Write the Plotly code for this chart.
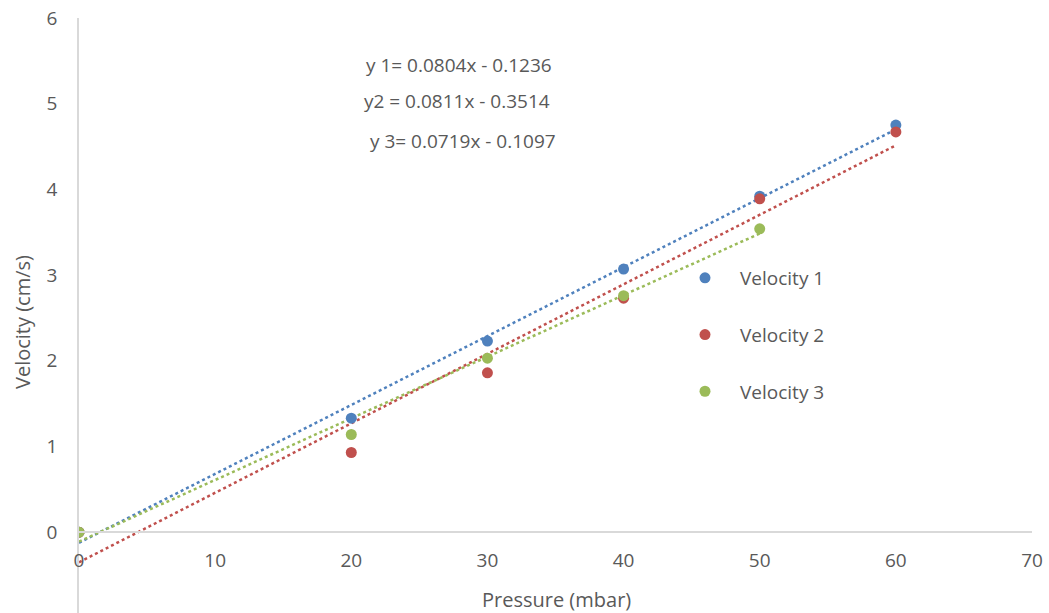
import plotly.graph_objects as go

pressure = [0, 20, 30, 40, 50, 60]
velocity1 = [0.0, 1.33, 2.23, 3.07, 3.92, 4.75]
velocity2 = [0.0, 0.93, 1.86, 2.73, 3.89, 4.67]
velocity3 = [0.0, 1.14, 2.03, 2.76, 3.54]
names = ["Velocity 1", "Velocity 2", "Velocity 3"]
slopes = [0.0804, 0.0811, 0.0719]
intercepts = [-0.1236, -0.3514, -0.1097]
equations = ["y 1= 0.0804x - 0.1236", "y2 = 0.0811x - 0.3514", "y 3= 0.0719x - 0.1097"]
colors = ["#4F81BD", "#C0504D", "#9BBB59"]

series = [velocity1, velocity2, velocity3]
FONT = "Open Sans"
GRAY = "#595959"

fig = go.Figure()
# trendlines first (under markers)
for i, ys in enumerate(series):
    xs = pressure[:len(ys)]
    x_end = [xs[0], xs[-1]]
    fig.add_trace(go.Scatter(
        x=x_end, y=[slopes[i] * v + intercepts[i] for v in x_end],
        mode="lines", line=dict(color=colors[i], width=2.5, dash="dot"),
        showlegend=False, hoverinfo="skip", legendgroup=names[i]))
for i, ys in enumerate(series):
    xs = pressure[:len(ys)]
    fig.add_trace(go.Scatter(
        x=xs, y=ys, mode="markers", name=names[i], legendgroup=names[i],
        marker=dict(color=colors[i], size=11)))

ymin, ymax = -0.943, 6
fig.update_layout(
    width=1049, height=613,
    margin=dict(l=79, r=17, t=18, b=0),
    plot_bgcolor="white", paper_bgcolor="white",
    font=dict(family=FONT, size=19, color=GRAY),
    xaxis=dict(range=[0, 70], tickvals=[0, 10, 20, 30, 40, 50, 60, 70],
               showgrid=False, zeroline=False, showline=True, linecolor="#D9D9D9",
               linewidth=1.5, anchor="free", position=(0 - ymin) / (ymax - ymin),
               ticks="", ticklabelstandoff=11, tickfont=dict(size=19, color=GRAY)),
    yaxis=dict(range=[ymin, ymax], tickvals=[-1, 0, 1, 2, 3, 4, 5, 6],
               showgrid=False, zeroline=False, showline=True, linecolor="#D9D9D9",
               linewidth=1.5, ticks="", ticklabelstandoff=16,
               tickfont=dict(size=19, color=GRAY)),
    legend=dict(x=(670 - 79) / 953, y=(613 - 259) / 595, yref="paper",
                xanchor="left", yanchor="top", bgcolor="rgba(0,0,0,0)",
                font=dict(size=19, color=GRAY), tracegroupgap=29, itemwidth=60),
    showlegend=True,
)

ann_y = [65, 101, 141]
ann_x = [364, 362, 368]
for i, txt in enumerate(equations):
    fig.add_annotation(text=txt, xref="paper", yref="paper",
                       x=(ann_x[i] - 79) / 953, y=(613 - ann_y[i]) / 595,
                       xanchor="left", yanchor="middle", showarrow=False,
                       font=dict(size=19, color=GRAY))

fig.add_annotation(text="Pressure (mbar)", xref="paper", yref="paper",
                   x=(556 - 79) / 953, y=(613 - 599) / 595, xanchor="center", yanchor="middle",
                   showarrow=False, font=dict(size=20, color=GRAY))
fig.add_annotation(text="Velocity (cm/s)", xref="paper", yref="paper",
                   x=(22 - 79) / 953, y=(613 - 322) / 595, xanchor="center", yanchor="middle",
                   textangle=-90, showarrow=False, font=dict(size=20, color=GRAY))

fig.write_html("out.html")
